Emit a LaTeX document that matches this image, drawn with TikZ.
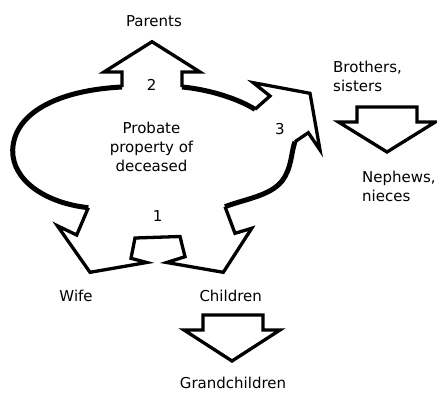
\documentclass[tikz,border=0pt]{standalone}
\usepackage{fontspec}
\setmainfont{DejaVu Sans}
\begin{document}
\begin{tikzpicture}[x=1pt,y=-1pt,
  arm/.style={line width=3.3pt, line join=miter, miter limit=12},
  body/.style={line width=5pt, line cap=butt},
  lbl/.style={inner sep=0pt, font=\fontsize{15}{19}\selectfont}]
\useasboundingbox (0,0) rectangle (437,392);
% main outline: arrow parts
\draw[arm] (122,87) -- (122,72) -- (104,72) -- (152,41.7) -- (200,72) -- (182,72) -- (182,87);
\draw[arm] (255,109.3) -- (270,96) -- (253.3,82.7) -- (310,93.3) -- (320,150) -- (308.3,132.7) -- (295,141.7);
\draw[arm] (225,206.7) -- (235,233.3) -- (251.7,228.3) -- (223.3,272.3) -- (166.7,262.5) -- (185,256.7)
  -- (180,236.5) -- (135,238) -- (131,258.3) -- (146.7,262.5) -- (90,272.3) -- (57.3,225.7) -- (76.7,235) -- (88.3,207.7);
% main outline: curved body
\draw[body] (88.3,207.7) .. controls (45,203) and (12,180) .. (12.7,150)
  .. controls (14,112) and (60,90) .. (122,87);
\draw[body] (182,87) .. controls (205,89) and (235,97) .. (255,109.3);
\draw[body] (295,141.7) .. controls (291,152) and (292,168) .. (282,181)
  .. controls (270,196) and (245,199) .. (225,206.7);
% secondary arrows
\draw[arm] (203,315) -- (263,315) -- (263,330) -- (280,330) -- (232,361) -- (184,330) -- (203,330) -- cycle;
\draw[arm] (357,107) -- (417,107) -- (417,122) -- (435.3,122) -- (387,152) -- (338.5,122) -- (357,122) -- cycle;
% labels
\node[lbl, anchor=base] (parents) at (154,26) {Parents};
\node[lbl, anchor=base] (two) at (151.7,90) {2};
\node[lbl, anchor=base] (three) at (280,134) {3};
\node[lbl, anchor=base] (one) at (157.7,221.7) {1};
\node[lbl, align=center] (prop) at (151.5,147.3) {Probate\\property of\\deceased};
\node[lbl, align=left, anchor=west] (bros) at (333,76.8) {Brothers,\\sisters};
\node[lbl, align=left, anchor=west] (neph) at (362,186.8) {Nephews,\\nieces};
\node[lbl, anchor=base west] (wife) at (59.3,301.7) {Wife};
\node[lbl, anchor=base west] (child) at (199.3,301.7) {Children};
\node[lbl, anchor=base] (grand) at (233,388) {Grandchildren};
\end{tikzpicture}
\end{document}
